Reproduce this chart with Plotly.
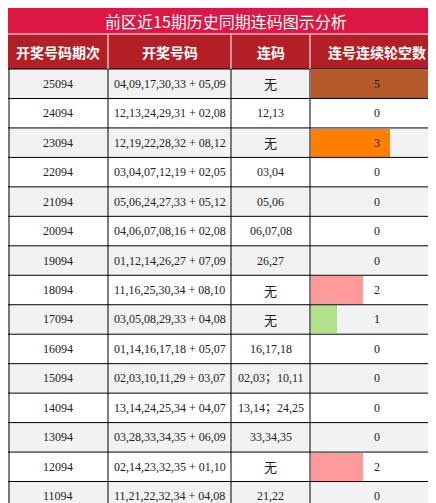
import plotly.graph_objects as go

title = "前区近15期历史同期连码图示分析"
headers = ["开奖号码期次", "开奖号码", "连码", "连号连续轮空数"]
periods = ["25094","24094","23094","22094","21094","20094","19094","18094","17094","16094","15094","14094","13094","12094","11094"]
numbers = ["04,09,17,30,33 + 05,09","12,13,24,29,31 + 02,08","12,19,22,28,32 + 08,12","03,04,07,12,19 + 02,05",
           "05,06,24,27,33 + 05,12","04,06,07,08,16 + 02,08","01,12,14,26,27 + 07,09","11,16,25,30,34 + 08,10",
           "03,05,08,29,33 + 04,08","01,14,16,17,18 + 05,07","02,03,10,11,29 + 03,07","13,14,24,25,34 + 04,07",
           "03,28,33,34,35 + 06,09","02,14,23,32,35 + 01,10","11,21,22,32,34 + 04,08"]
lianma = ["无","12,13","无","03,04","05,06","06,07,08","26,27","无","无","16,17,18","02,03；10,11","13,14；24,25","33,34,35","无","21,22"]
gaps = [5,0,3,0,0,0,0,2,1,0,0,0,0,2,0]
bar_colors = {5:"#b5582a",3:"#ff8000",2:"#ff9a9a",1:"#b3e08a",0:"rgba(0,0,0,0)"}

W, H = 436, 503
cols = [0,100,223,302,436]
top, hdr_bot = 26, 61
rh = (H - hdr_bot) / len(periods)
centers = [hdr_bot + rh*(i+0.5) for i in range(len(periods))]

fig = go.Figure()
shapes, ann = [], []
shapes.append(dict(type="rect", xref="x", yref="y", x0=0, x1=W, y0=0, y1=top, fillcolor="#dc1743", line_width=0, layer="below"))
shapes.append(dict(type="rect", xref="x", yref="y", x0=0, x1=W, y0=top, y1=hdr_bot, fillcolor="#b22025", line_width=0, layer="below"))
for i in range(len(periods)):
    y0 = hdr_bot + rh*i
    shapes.append(dict(type="rect", xref="x", yref="y", x0=0, x1=W, y0=y0, y1=y0+rh,
                       fillcolor="#f2f2f2" if i % 2 == 0 else "#ffffff", line_width=0, layer="below"))
for i in range(len(periods)+1):
    y = hdr_bot + rh*i
    shapes.append(dict(type="line", xref="x", yref="y", x0=0, x1=W, y0=y, y1=y, line=dict(color="black", width=1)))
shapes.append(dict(type="line", xref="x", yref="y", x0=0, x1=W, y0=top, y1=top, line=dict(color="white", width=1)))
for x in cols[1:-1]:
    shapes.append(dict(type="line", xref="x", yref="y", x0=x, x1=x, y0=hdr_bot, y1=H, line=dict(color="black", width=1)))
    shapes.append(dict(type="line", xref="x", yref="y", x0=x, x1=x, y0=top, y1=hdr_bot, line=dict(color="white", width=1)))
for x in [1, W-1.5]:
    shapes.append(dict(type="line", xref="x", yref="y", x0=x, x1=x, y0=hdr_bot, y1=H, line=dict(color="black", width=1)))

ann.append(dict(x=W/2, y=top/2, xref="x", yref="y", text=title, showarrow=False,
                font=dict(family="Noto Sans CJK SC", size=16, color="white")))
for j, h in enumerate(headers):
    ann.append(dict(x=(cols[j]+cols[j+1])/2, y=(top+hdr_bot)/2, xref="x", yref="y", text="<b>"+h+"</b>", showarrow=False,
                    font=dict(family="Noto Sans CJK SC", size=14, color="white")))
for i in range(len(periods)):
    for j, t in enumerate([periods[i], numbers[i], lianma[i], str(gaps[i])]):
        fam = "Noto Sans CJK SC" if t == "无" else "Liberation Serif, Noto Sans CJK SC"
        ann.append(dict(x=(cols[j]+cols[j+1])/2, y=centers[i], xref="x", yref="y", text=t, showarrow=False,
                        font=dict(family=fam, size=12 if t != "无" else 13, color="#222")))

fig.add_trace(go.Bar(x=gaps, y=centers, orientation="h", xaxis="x2", yaxis="y",
                     width=rh-1.5, marker=dict(color=[bar_colors[g] for g in gaps], line_width=0),
                     hoverinfo="skip", showlegend=False))

fig.update_layout(
    width=W, height=H, margin=dict(l=0, r=0, t=0, b=0), paper_bgcolor="white", plot_bgcolor="rgba(0,0,0,0)",
    xaxis=dict(range=[0, W], visible=False, domain=[0, 1], layer="above traces"),
    xaxis2=dict(range=[0, 5], visible=False, domain=[303/W, 434/W], anchor="y"),
    yaxis=dict(range=[H, 0], visible=False),
    shapes=shapes, annotations=ann, bargap=0,
)
fig.write_html("out.html")
